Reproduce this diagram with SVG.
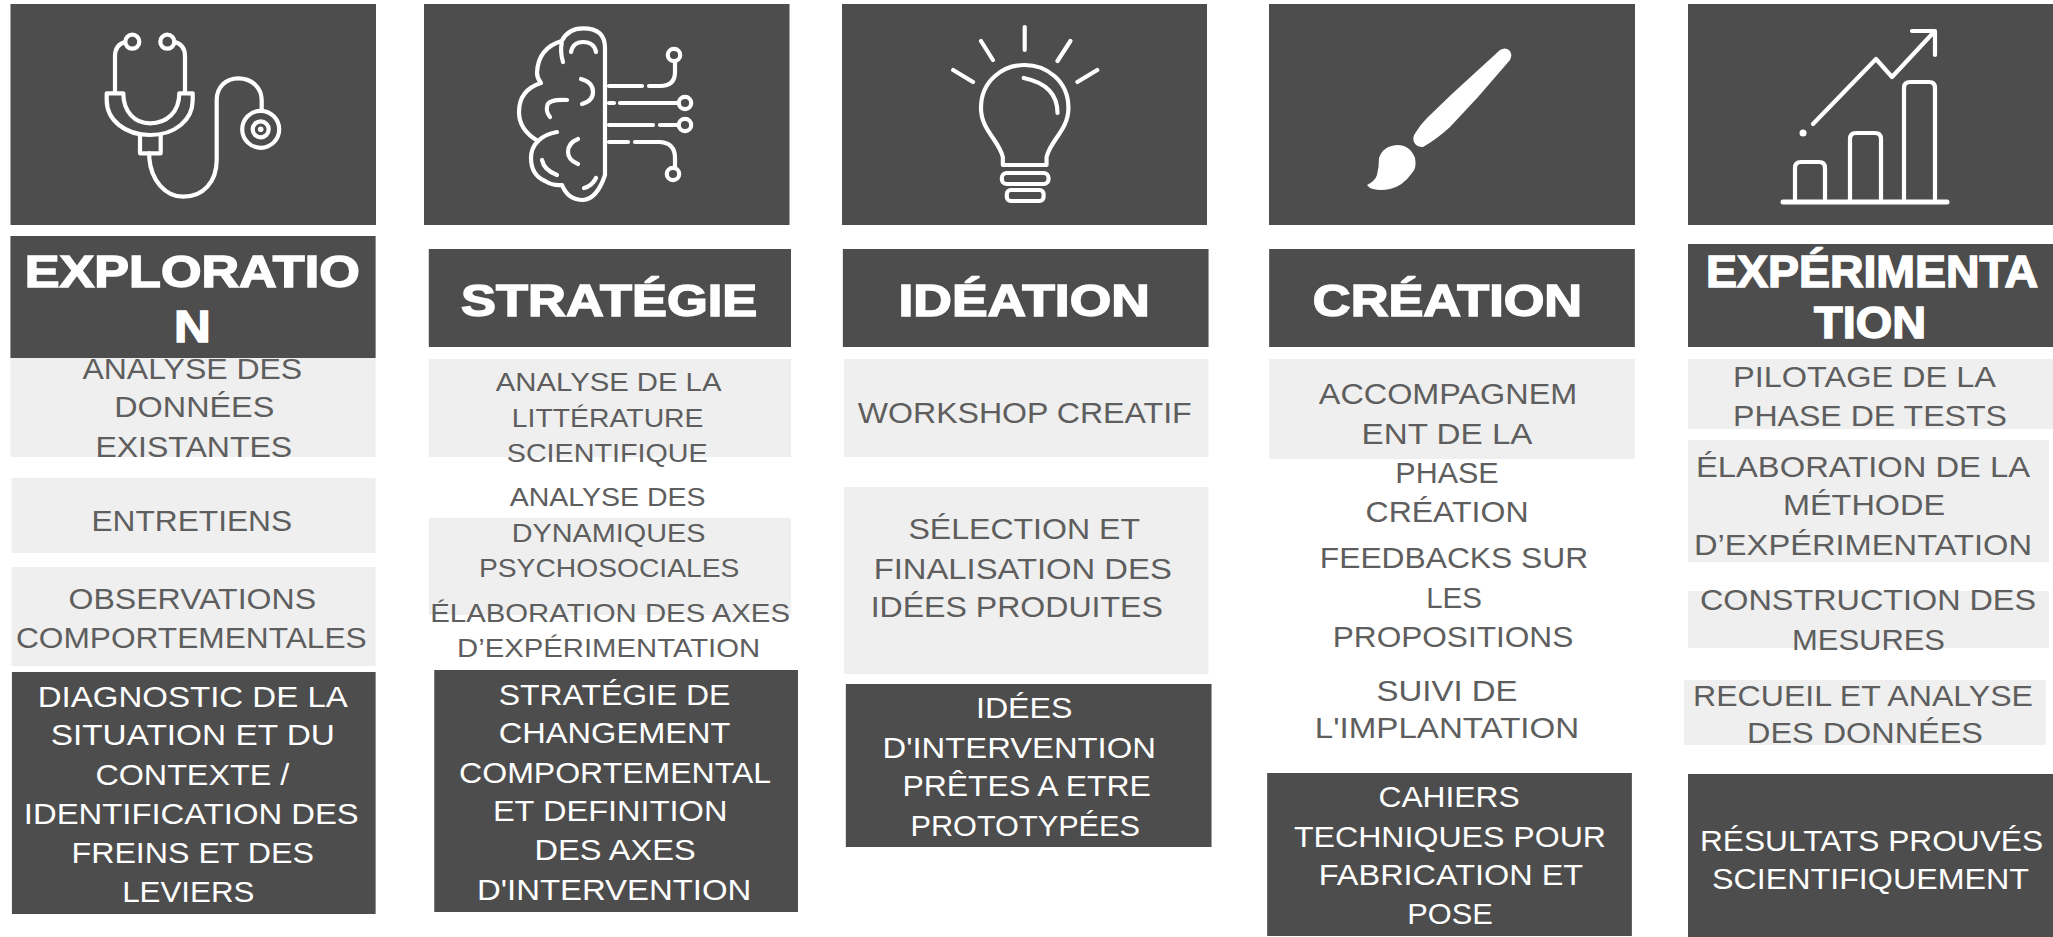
<svg xmlns="http://www.w3.org/2000/svg" width="2053" height="937" viewBox="0 0 2053 937">
<style>
.d{fill:#4d4d4d}
.l{fill:#efefef}
.h{font-family:"Liberation Sans",Arial,sans-serif;font-weight:700;font-size:44.5px;fill:#fff;stroke:#fff;stroke-width:1.5}
.b,.w{font-family:"Liberation Sans",Arial,sans-serif;font-size:29.5px}
.s{font-size:25.5px}
.b{fill:#5e5e5e}
.w{fill:#fff}
.i{fill:none;stroke:#fff;stroke-width:4.2;stroke-linecap:round;stroke-linejoin:round}
.f{fill:#fff;stroke:none}
</style>
<rect width="2053" height="937" fill="#fff"/>
<g id="col-exploration">
<g id="icon-exploration"><rect class="d" x="10.5" y="4" width="365.5" height="221"/>
<g class="i"><circle cx="132.3" cy="41.7" r="7"/><circle cx="167.3" cy="41.7" r="7"/><path d="M125,42 Q115,45 115,56 V93"/><path d="M175,42 Q185,45 185,56 V93"/><path d="M106.7,93.3 H123.3 C123.3,112 135,123.3 150,123.3 C167,123.3 179.3,112 179.3,93.3 H192.7 V100 C192.7,120 175,135 150,135 C125,135 106.7,120 106.7,100 Z"/><path d="M140,135.5 V153.3 H160.7 V135.5"/><path d="M149.3,153.3 V158 C151,180 165,196.7 183.3,196.7 C203,196.7 216.7,182 216.7,160 V100 C216.7,87 226,78.3 238.3,78.3 C252,78.3 261.7,88 261.7,100 V110"/><circle cx="260.7" cy="129.3" r="18.5"/><circle cx="260.7" cy="129.3" r="8"/></g><circle class="f" cx="260.7" cy="129.3" r="2.8"/></g>
<g id="items-exploration" transform="scale(.99372 1)">
<rect class="l" x="10.5" y="358" width="367.5" height="99"/>
<rect class="l" x="11.5" y="478" width="366.5" height="75"/>
<rect class="l" x="11.5" y="567" width="366.5" height="99"/>
<text class="b" x="83" y="379" textLength="221" lengthAdjust="spacingAndGlyphs">ANALYSE DES</text>
<text class="b" x="115" y="417" textLength="161" lengthAdjust="spacingAndGlyphs">DONNÉES</text>
<text class="b" x="96" y="457" textLength="198" lengthAdjust="spacingAndGlyphs">EXISTANTES</text>
<text class="b" x="92" y="531" textLength="202" lengthAdjust="spacingAndGlyphs">ENTRETIENS</text>
<text class="b" x="69" y="609" textLength="249" lengthAdjust="spacingAndGlyphs">OBSERVATIONS</text>
<text class="b" x="16" y="648" textLength="353" lengthAdjust="spacingAndGlyphs">COMPORTEMENTALES</text>
</g>
<g id="title-exploration" transform="scale(.99372 1)"><rect class="d" x="10.5" y="236" width="367.5" height="122"/>
<text class="h" x="25" y="287" textLength="337" lengthAdjust="spacingAndGlyphs">EXPLORATIO</text>
<text class="h" x="175" y="342" textLength="37" lengthAdjust="spacingAndGlyphs">N</text></g>
<g id="result-exploration" transform="scale(.99372 1)"><rect class="d" x="12" y="672" width="366" height="242"/>
<text class="w" x="38" y="707" textLength="312" lengthAdjust="spacingAndGlyphs">DIAGNOSTIC DE LA</text>
<text class="w" x="51" y="745" textLength="286" lengthAdjust="spacingAndGlyphs">SITUATION ET DU</text>
<text class="w" x="96" y="785" textLength="195" lengthAdjust="spacingAndGlyphs">CONTEXTE /</text>
<text class="w" x="24" y="824" textLength="337" lengthAdjust="spacingAndGlyphs">IDENTIFICATION DES</text>
<text class="w" x="72" y="863" textLength="244" lengthAdjust="spacingAndGlyphs">FREINS ET DES</text>
<text class="w" x="123" y="902" textLength="133" lengthAdjust="spacingAndGlyphs">LEVIERS</text></g>
</g>
<g id="col-strategie">
<g id="icon-strategie"><rect class="d" x="424" y="4" width="365.5" height="221"/>
<g class="i"><path d="M605,175 V48 Q605,28.3 583,28.3 Q568,28.3 561.7,41 Q538,48 537,73 Q537,78 541,83 Q519,90 519,112 Q519,130 538,141 Q531,148 531,158 Q531,175 545,181 Q553,186 562,185 Q568,200 583,200 Q597,199 605,175"/><path d="M561.7,43 Q560,52 563,62"/><path d="M571,52 Q573,42 583,42 Q594,42 596,52"/><path d="M581,79 Q593,82 593,92 Q593,101 582,104"/><path d="M567,100 Q547,99 547,107 Q546,112 550,117"/><path d="M538,141 Q545,134 557,132"/><path d="M578,139 Q568,143 568,152 Q568,160 578,164"/><path d="M542,160 Q544,170 557,175"/><path d="M584,188 Q592,186 596,178"/>
<path d="M609,86 H642 M649,86 H660 Q675,86 675,72 V62"/><path d="M609,103 H614 M620,103 H678"/><path d="M609,125 H653 M660,125 H678"/><path d="M609,142 H628 M635,142 H660 Q675,143 675,158 V167"/>
<circle cx="674" cy="55" r="6.2"/><circle cx="685" cy="103" r="6.2"/><circle cx="685" cy="125" r="6.2"/><circle cx="673" cy="174" r="6.2"/></g></g>
<g id="items-strategie" transform="scale(.99372 1)">
<rect class="l" x="431.5" y="359" width="364.5" height="98"/>
<rect class="l" x="431.5" y="518" width="364.5" height="97"/>
<text class="b s" x="499" y="391" textLength="227" lengthAdjust="spacingAndGlyphs">ANALYSE DE LA</text>
<text class="b s" x="515" y="427" textLength="193" lengthAdjust="spacingAndGlyphs">LITTÉRATURE</text>
<text class="b s" x="510" y="462" textLength="202" lengthAdjust="spacingAndGlyphs">SCIENTIFIQUE</text>
<text class="b s" x="513" y="506" textLength="197" lengthAdjust="spacingAndGlyphs">ANALYSE DES</text>
<text class="b s" x="515" y="542" textLength="195" lengthAdjust="spacingAndGlyphs">DYNAMIQUES</text>
<text class="b s" x="482" y="577" textLength="262" lengthAdjust="spacingAndGlyphs">PSYCHOSOCIALES</text>
<text class="b s" x="433" y="622" textLength="362" lengthAdjust="spacingAndGlyphs">ÉLABORATION DES AXES</text>
<text class="b s" x="460" y="657" textLength="305" lengthAdjust="spacingAndGlyphs">D’EXPÉRIMENTATION</text>
</g>
<g id="title-strategie" transform="scale(.99372 1)"><rect class="d" x="431.5" y="249" width="364.5" height="98"/>
<text class="h" x="464" y="316" textLength="298" lengthAdjust="spacingAndGlyphs">STRATÉGIE</text></g>
<g id="result-strategie" transform="scale(.99372 1)"><rect class="d" x="437" y="670" width="366" height="242"/>
<text class="w" x="502" y="705" textLength="233" lengthAdjust="spacingAndGlyphs">STRATÉGIE DE</text>
<text class="w" x="502" y="743" textLength="233" lengthAdjust="spacingAndGlyphs">CHANGEMENT</text>
<text class="w" x="462" y="783" textLength="314" lengthAdjust="spacingAndGlyphs">COMPORTEMENTAL</text>
<text class="w" x="496" y="821" textLength="236" lengthAdjust="spacingAndGlyphs">ET DEFINITION</text>
<text class="w" x="538" y="860" textLength="162" lengthAdjust="spacingAndGlyphs">DES AXES</text>
<text class="w" x="480" y="900" textLength="276" lengthAdjust="spacingAndGlyphs">D'INTERVENTION</text></g>
</g>
<g id="col-ideation">
<g id="icon-ideation"><rect class="d" x="842" y="4" width="365" height="221"/>
<g class="i" transform="matrix(.99372 0 0 1 5.15 0)"><path d="M1026,27 V50 M982,41 L994,60 M1072,41 L1059,61 M954,70 L974,82 M1099,70 L1079,82"/><path d="M1004,165 V157 C1000,140 982,130 982,108 C982,80 1005,65 1026,65 C1047,65 1070,80 1070,108 C1070,130 1052,140 1048,157 V165 Z"/><path d="M1025,78 Q1059,85 1059,113"/><rect x="1003" y="173" width="47" height="11" rx="5"/><rect x="1008" y="190" width="37" height="11" rx="4"/></g></g>
<g id="items-ideation" transform="matrix(.99372 0 0 1 5.15 0)">
<rect class="l" x="844" y="359" width="367" height="98"/>
<rect class="l" x="844" y="487" width="367" height="187"/>
<text class="b" x="858" y="423" textLength="336" lengthAdjust="spacingAndGlyphs">WORKSHOP CREATIF</text>
<text class="b" x="909" y="539" textLength="233" lengthAdjust="spacingAndGlyphs">SÉLECTION ET</text>
<text class="b" x="874" y="579" textLength="300" lengthAdjust="spacingAndGlyphs">FINALISATION DES</text>
<text class="b" x="871" y="617" textLength="294" lengthAdjust="spacingAndGlyphs">IDÉES PRODUITES</text>
</g>
<g id="title-ideation" transform="matrix(.99372 0 0 1 5.15 0)"><rect class="d" x="843" y="249" width="368" height="98"/>
<text class="h" x="899" y="316" textLength="253" lengthAdjust="spacingAndGlyphs">IDÉATION</text></g>
<g id="result-ideation" transform="matrix(.99372 0 0 1 5.15 0)"><rect class="d" x="846" y="684" width="368" height="163"/>
<text class="w" x="977" y="718" textLength="97" lengthAdjust="spacingAndGlyphs">IDÉES</text>
<text class="w" x="883" y="758" textLength="275" lengthAdjust="spacingAndGlyphs">D'INTERVENTION</text>
<text class="w" x="903" y="796" textLength="250" lengthAdjust="spacingAndGlyphs">PRÊTES A ETRE</text>
<text class="w" x="911" y="836" textLength="231" lengthAdjust="spacingAndGlyphs">PROTOTYPÉES</text></g>
</g>
<g id="col-creation">
<g id="icon-creation"><rect class="d" x="1269" y="4" width="366" height="221"/>
<path class="f" d="M1500,50 Q1505,47 1509,50 Q1513,54 1510,60 L1478,97 L1450,127 Q1437,139 1423,147 Q1416,147 1414,142 Q1412,137 1416,132 Q1421,124 1427,118 L1453,93 Z"/>
<path class="f" d="M1397,145 Q1410,145 1415,158 Q1417,168 1412,173 Q1403,186 1390,189 Q1380,191 1373,189 Q1369,188 1367,185 Q1375,181 1377,175 Q1379,167 1379,158 Q1383,146 1397,145 Z"/></g>
<g id="items-creation" transform="matrix(.99372 0 0 1 5.15 0)">
<rect class="l" x="1272" y="359" width="368" height="100"/>
<text class="b" x="1322" y="404" textLength="260" lengthAdjust="spacingAndGlyphs">ACCOMPAGNEM</text>
<text class="b" x="1365" y="444" textLength="172" lengthAdjust="spacingAndGlyphs">ENT DE LA</text>
<text class="b" x="1399" y="483" textLength="104" lengthAdjust="spacingAndGlyphs">PHASE</text>
<text class="b" x="1369" y="522" textLength="164" lengthAdjust="spacingAndGlyphs">CRÉATION</text>
<text class="b" x="1323" y="568" textLength="270" lengthAdjust="spacingAndGlyphs">FEEDBACKS SUR</text>
<text class="b" x="1430" y="608" textLength="56" lengthAdjust="spacingAndGlyphs">LES</text>
<text class="b" x="1336" y="647" textLength="242" lengthAdjust="spacingAndGlyphs">PROPOSITIONS</text>
<text class="b" x="1380" y="701" textLength="142" lengthAdjust="spacingAndGlyphs">SUIVI DE</text>
<text class="b" x="1318" y="738" textLength="266" lengthAdjust="spacingAndGlyphs">L'IMPLANTATION</text>
</g>
<g id="title-creation" transform="matrix(.99372 0 0 1 5.15 0)"><rect class="d" x="1272" y="249" width="368" height="98"/>
<text class="h" x="1316" y="316" textLength="271" lengthAdjust="spacingAndGlyphs">CRÉATION</text></g>
<g id="result-creation" transform="matrix(.99372 0 0 1 5.15 0)"><rect class="d" x="1270" y="773" width="367" height="163"/>
<text class="w" x="1382" y="807" textLength="142" lengthAdjust="spacingAndGlyphs">CAHIERS</text>
<text class="w" x="1297" y="847" textLength="314" lengthAdjust="spacingAndGlyphs">TECHNIQUES POUR</text>
<text class="w" x="1322" y="885" textLength="266" lengthAdjust="spacingAndGlyphs">FABRICATION ET</text>
<text class="w" x="1411" y="924" textLength="86" lengthAdjust="spacingAndGlyphs">POSE</text></g>
</g>
<g id="col-experimentation">
<g id="icon-experimentation"><rect class="d" x="1688" y="4" width="365" height="221"/>
<g class="i"><path d="M1813,124 L1876,59 L1892,77 L1933,33 M1912,31 H1935 V55"/><path d="M1795,200 V168 Q1795,162 1801,162 H1819 Q1825,162 1825,168 V200"/><path d="M1850,200 V139 Q1850,133 1856,133 H1875 Q1881,133 1881,139 V200"/><path d="M1904,200 V88 Q1904,82 1910,82 H1929 Q1935,82 1935,88 V200"/><path d="M1783,202 H1947" stroke-width="5"/></g><circle class="f" cx="1803" cy="133" r="3.5"/></g>
<g id="items-experimentation">
<rect class="l" x="1688" y="359" width="365" height="70"/>
<rect class="l" x="1688" y="440" width="361" height="122"/>
<rect class="l" x="1688" y="591" width="361" height="57"/>
<rect class="l" x="1684" y="680" width="362" height="65"/>
<text class="b" x="1733" y="387" textLength="263" lengthAdjust="spacingAndGlyphs">PILOTAGE DE LA</text>
<text class="b" x="1733" y="426" textLength="274" lengthAdjust="spacingAndGlyphs">PHASE DE TESTS</text>
<text class="b" x="1696" y="477" textLength="334" lengthAdjust="spacingAndGlyphs">ÉLABORATION DE LA</text>
<text class="b" x="1783" y="515" textLength="162" lengthAdjust="spacingAndGlyphs">MÉTHODE</text>
<text class="b" x="1694" y="555" textLength="338" lengthAdjust="spacingAndGlyphs">D’EXPÉRIMENTATION</text>
<text class="b" x="1700" y="610" textLength="336" lengthAdjust="spacingAndGlyphs">CONSTRUCTION DES</text>
<text class="b" x="1792" y="650" textLength="153" lengthAdjust="spacingAndGlyphs">MESURES</text>
<text class="b" x="1693" y="706" textLength="340" lengthAdjust="spacingAndGlyphs">RECUEIL ET ANALYSE</text>
<text class="b" x="1747" y="743" textLength="236" lengthAdjust="spacingAndGlyphs">DES DONNÉES</text>
</g>
<g id="title-experimentation"><rect class="d" x="1688" y="244" width="365" height="103"/>
<text class="h" x="1706" y="287" textLength="332" lengthAdjust="spacingAndGlyphs">EXPÉRIMENTA</text>
<text class="h" x="1814" y="338" textLength="112" lengthAdjust="spacingAndGlyphs">TION</text></g>
<g id="result-experimentation"><rect class="d" x="1688" y="774" width="365" height="163"/>
<text class="w" x="1700" y="851" textLength="343" lengthAdjust="spacingAndGlyphs">RÉSULTATS PROUVÉS</text>
<text class="w" x="1712" y="889" textLength="317" lengthAdjust="spacingAndGlyphs">SCIENTIFIQUEMENT</text></g>
</g>
</svg>
